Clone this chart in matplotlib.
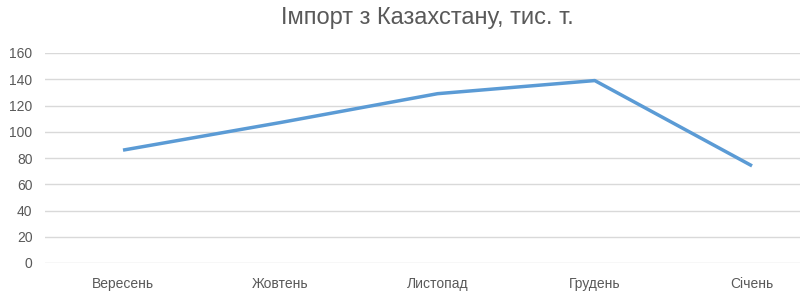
import matplotlib
matplotlib.use("Agg")
import matplotlib.pyplot as plt

months = ["Вересень", "Жовтень", "Листопад", "Грудень", "Січень"]
imports = [86, 107, 129, 139, 74]

plt.rcParams["font.family"] = ["Liberation Sans", "DejaVu Sans"]

fig = plt.figure(figsize=(8.0, 2.98), dpi=100)
ax = fig.add_axes([45/800, 1-263/298, 755/800, 210/298])
x = range(len(months))
ax.plot(x, imports, color="#5b9bd5", lw=2.5, solid_capstyle="butt", zorder=3)

ax.set_xlim(-0.496, 4.305)
ax.set_ylim(0, 160)
ax.set_yticks(range(0, 161, 20))
ax.set_xticks(list(x))
ax.set_xticklabels(months)
ax.grid(axis="y", color="#d9d9d9", lw=1)
ax.set_axisbelow(True)
for s in ax.spines.values():
    s.set_visible(False)
ax.tick_params(length=0, labelsize=10, colors="#595959", pad=9)
ax.tick_params(axis="x", pad=10)
fig.text(0.534, 0.94, "Імпорт з Казахстану, тис. т.", ha="center", va="center",
         fontsize=17, color="#595959")
fig.savefig("out.png", dpi=100)
